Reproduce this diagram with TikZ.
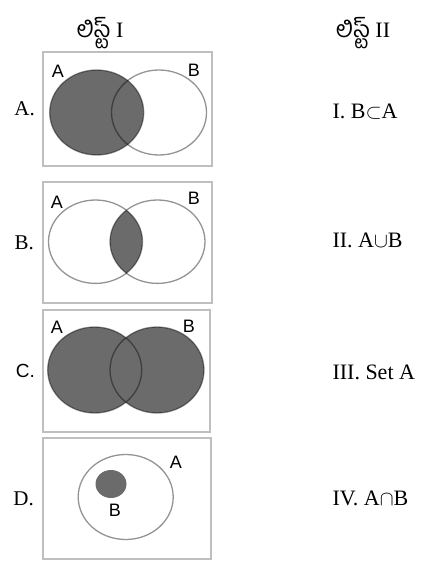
\documentclass[tikz,border=0pt]{standalone}
\usepackage{fontspec}
\setmainfont{Liberation Serif}
\newfontfamily\vennfont{Liberation Sans}
\newfontfamily\telugufont[Script=Telugu]{Hind Guntur}
\usetikzlibrary{positioning}

\begin{document}
\begin{tikzpicture}[x=1pt, y=-1pt,
		frame/.style={
			rectangle,
			draw=gray!50,
			line width=1.3pt,
			inner sep=0pt
		},
		setline/.style={draw=black, draw opacity=0.42, line width=1.3pt},
		shaded/.style={fill=black!58},
		tag/.style={font=\fontsize{21}{24}\selectfont},
		item/.style={font=\fontsize{22}{26}\selectfont, anchor=west},
		setname/.style={font=\vennfont\fontsize{18}{20}\selectfont},
		head/.style={font=\fontsize{22}{26}\selectfont}]
	\useasboundingbox (0,0) rectangle (429,562);

	% headers
	\node [head] (headI) at (100,33) {{\telugufont\fontsize{23}{26}\selectfont లిస్ట్} I};
	\node [head] (headII) at (363,33) {{\telugufont\fontsize{23}{26}\selectfont లిస్ట్} II};

	% frames
	\node [frame, minimum width=169pt, minimum height=114pt] (boxA) at (127.5,109) {};
	\node [frame, minimum width=169pt, minimum height=121pt] (boxB) at (127.5,242.5) {};
	\node [frame, minimum width=167pt, minimum height=122pt] (boxC) at (126.5,371) {};
	\node [frame, minimum width=168pt, minimum height=121pt] (boxD) at (127,498.5) {};

	% A. set A shaded
	\fill [shaded] (96.7,112.5) ellipse [x radius=47, y radius=42.5];
	\draw [setline] (96.7,112.5) ellipse [x radius=47, y radius=42.5];
	\draw [setline] (159,112.5) ellipse [x radius=47.5, y radius=42.5];

	% B. intersection shaded
	\begin{scope}
		\clip (95.5,241.7) ellipse [x radius=47, y radius=41.7];
		\fill [shaded] (157.5,241.7) ellipse [x radius=47.5, y radius=41.7];
	\end{scope}
	\draw [setline] (95.5,241.7) ellipse [x radius=47, y radius=41.7];
	\draw [setline] (157.5,241.7) ellipse [x radius=47.5, y radius=41.7];

	% C. union shaded
	\fill [shaded] (94.7,370) ellipse [x radius=47, y radius=43];
	\fill [shaded] (157,370) ellipse [x radius=47, y radius=43];
	\draw [setline] (94.7,370) ellipse [x radius=47, y radius=43];
	\draw [setline] (157,370) ellipse [x radius=47, y radius=43];

	% D. B inside A
	\draw [setline] (125.7,497) ellipse [x radius=47.5, y radius=42.5];
	\fill [shaded] (111,484) ellipse [x radius=15.5, y radius=14];

	% set names
	\node [setname] (nameAa) at (58,71) {A};
	\node [setname] (nameAb) at (194,70) {B};
	\node [setname] (nameBa) at (57,202) {A};
	\node [setname] (nameBb) at (194,198) {B};
	\node [setname] (nameCa) at (57,327) {A};
	\node [setname] (nameCb) at (189,326) {B};
	\node [setname] (nameDa) at (176,462) {A};
	\node [setname] (nameDb) at (115,510) {B};

	% list I tags
	\node [tag, left=4pt of boxA] (tagA) {A.};
	\node [tag, left=5pt of boxB] (tagB) {B.};
	\node [tag, left=4pt of boxC, font=\vennfont\fontsize{19}{22}\selectfont] (tagC) {C.};
	\node [tag, left=5pt of boxD] (tagD) {D.};

	% list II items
	\node [item] (itemI) at (329,112) {I. B$\subset$A};
	\node [item] (itemII) at (329,240) {II. A$\cup$B};
	\node [item] (itemIII) at (329,372) {III. Set A};
	\node [item] (itemIV) at (329,498) {IV. A$\cap$B};
\end{tikzpicture}
\end{document}
